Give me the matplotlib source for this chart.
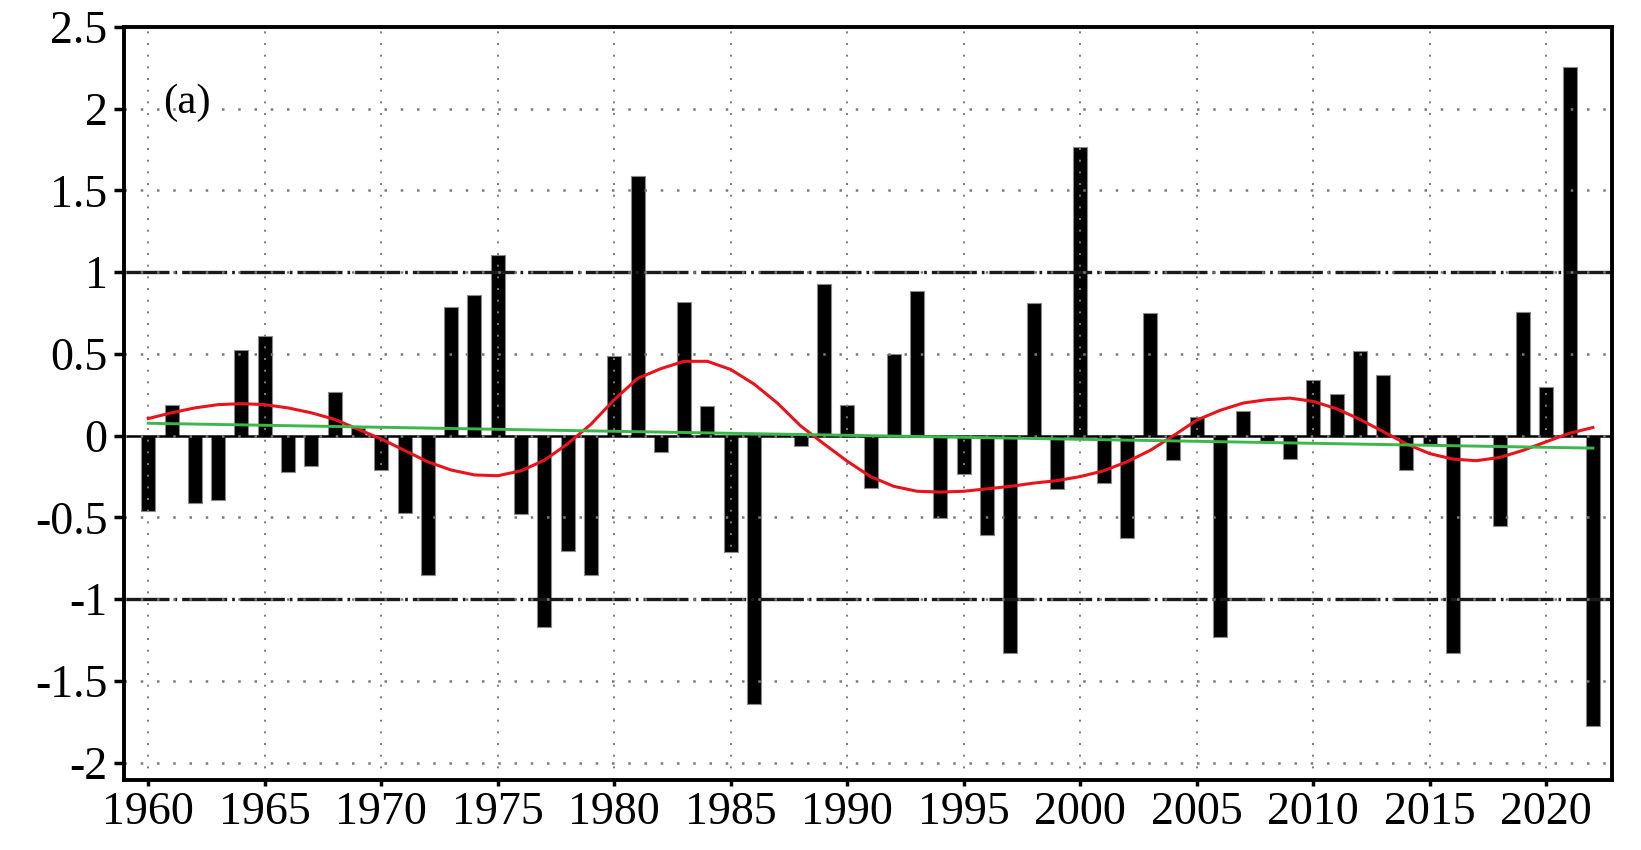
import matplotlib
matplotlib.use("Agg")
import matplotlib.pyplot as plt
import numpy as np

plt.rcParams['font.family'] = ['Liberation Serif', 'DejaVu Serif']
plt.rcParams['axes.unicode_minus'] = False

# yearly anomaly (bars)
years = np.arange(1960, 2023)
anomaly = [-0.46, 0.19, -0.41, -0.395, 0.525, 0.61, -0.22, -0.185, 0.27, 0.05,
           -0.21, -0.47, -0.855, 0.79, 0.86, 1.105, -0.48, -1.17, -0.705, -0.855,
           0.49, 1.59, -0.10, 0.82, 0.18, -0.71, -1.64, 0.0, -0.06, 0.93,
           0.19, -0.32, 0.50, 0.885, -0.505, -0.235, -0.605, -1.33, 0.81, -0.325,
           1.765, -0.29, -0.625, 0.75, -0.15, 0.115, -1.23, 0.15, -0.035, -0.145,
           0.34, 0.255, 0.52, 0.37, -0.21, -0.055, -1.33, 0.0, -0.555, 0.755,
           0.295, 2.255, -1.775]

# smoothed curve (red)
smooth = [0.105, 0.14, 0.17, 0.19, 0.196, 0.19, 0.17, 0.14, 0.10, 0.04,
          -0.02, -0.09, -0.16, -0.21, -0.24, -0.245, -0.215, -0.15, -0.05, 0.07,
          0.22, 0.35, 0.41, 0.455, 0.455, 0.405, 0.316, 0.2, 0.06, -0.05,
          -0.156, -0.25, -0.31, -0.34, -0.345, -0.34, -0.325, -0.31, -0.29, -0.275,
          -0.25, -0.215, -0.16, -0.09, 0.0, 0.095, 0.155, 0.2, 0.22, 0.23,
          0.21, 0.165, 0.10, 0.025, -0.05, -0.11, -0.143, -0.153, -0.133, -0.09,
          -0.037, 0.015, 0.05]

# linear trend (green)
trend_years = [1960, 2022]
trend_vals = [0.076, -0.076]

xticks = [1960, 1965, 1970, 1975, 1980, 1985, 1990, 1995, 2000, 2005, 2010, 2015, 2020]
yticks = [-2, -1.5, -1, -0.5, 0, 0.5, 1, 1.5, 2, 2.5]
ytick_labels = ['-2', '-1.5', '-1', '-0.5', '0', '0.5', '1', '1.5', '2', '2.5']

fig = plt.figure(figsize=(16.41, 8.5), dpi=100)
ax = fig.add_axes([0.0757, 0.0824, 0.9066, 0.8858])

ax.bar(years, anomaly, width=0.6, color='black', edgecolor='#8a8a8a',
       linewidth=0.8, zorder=1)

# +-1 thresholds and zero line
for lev in (1, -1):
    ax.axhline(lev, color='#1a1a1a', lw=2.4, dashes=(13.5, 1.5, 0.8, 1.5), zorder=2)
ax.axhline(0, color='black', lw=1.8, zorder=2)

ax.plot(years, smooth, color='#e8141b', lw=2.2, zorder=3)
ax.plot(trend_years, trend_vals, color='#3cb84a', lw=2.1, zorder=3)

# dotted grid drawn over the bars
for xt in xticks:
    ax.axvline(xt, color='#7a7a7a', lw=1.4, ls=(0, (1, 5)), zorder=2.5)
for yt in yticks[:-1]:
    ax.axhline(yt, color='#7a7a7a', lw=1.8, ls=(0, (1, 5.5)), zorder=2.5)

ax.set_xlim(1958.97, 2022.82)
ax.set_ylim(-2.106, 2.5)
ax.set_xticks(xticks)
ax.set_xticklabels([str(x) for x in xticks])
ax.set_yticks(yticks)
ax.set_yticklabels(ytick_labels)
ax.tick_params(axis='y', direction='out', length=7, width=2.5, pad=5, labelsize=33)
ax.tick_params(axis='x', direction='out', length=4, width=2.5, pad=4, labelsize=33)

for sp in ax.spines.values():
    sp.set_linewidth(2.8)

ax.text(0.026, 0.90, '(a)', transform=ax.transAxes, fontsize=31,
        ha='left', va='center')

fig.savefig('out.png', dpi=100)
